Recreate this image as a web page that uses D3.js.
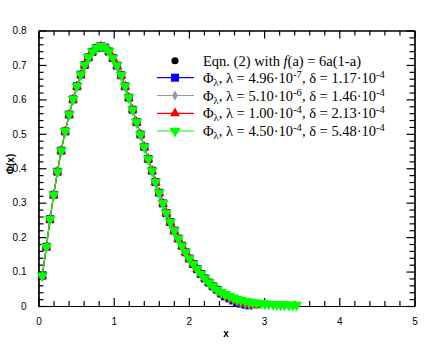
<!DOCTYPE html>
<html>
<head>
<meta charset="utf-8">
<script src="https://cdn.jsdelivr.net/npm/d3@7"></script>
<style>
  body { margin: 0; background: #fff; }
  svg { display: block; }
  .tick text { font-family: "Liberation Sans", Arial, sans-serif; font-size: 10px; fill: #000; }
  .legend text { font-family: "Liberation Serif", "Times New Roman", serif; font-size: 14.5px; fill: #000; }
</style>
</head>
<body>
<div id="chart"></div>
<script>
// ---------- data ----------
// shared body of all curves
const xBody = [0.05, 0.105, 0.153, 0.202, 0.252, 0.302, 0.355, 0.408, 0.46, 0.512, 0.564, 0.614,
  0.665, 0.717, 0.772, 0.828, 0.884, 0.938, 0.99, 1.045, 1.1, 1.152, 1.2, 1.252, 1.305, 1.357,
  1.408, 1.46, 1.51, 1.556, 1.605, 1.655, 1.7, 1.752, 1.805, 1.858, 1.908, 1.957, 2.005, 2.058,
  2.11, 2.162, 2.213, 2.266, 2.32, 2.378];
const yBody = [0.088, 0.172, 0.252, 0.323, 0.39, 0.451, 0.507, 0.556, 0.6, 0.638, 0.672, 0.7,
  0.722, 0.738, 0.749, 0.754, 0.75, 0.739, 0.72, 0.698, 0.67, 0.638, 0.605, 0.57, 0.534, 0.498,
  0.462, 0.427, 0.393, 0.36, 0.329, 0.298, 0.27, 0.244, 0.219, 0.196, 0.175, 0.156, 0.138, 0.122,
  0.107, 0.093, 0.08, 0.068, 0.057, 0.047];

// tails, where the curves separate
const xTail = [2.43, 2.48, 2.54, 2.59, 2.64, 2.69, 2.75, 2.8, 2.85, 2.9, 2.96, 3.01, 3.06,
  3.12, 3.17, 3.22, 3.27, 3.33, 3.38, 3.43];
const eqnTail = [0.038, 0.031, 0.025, 0.019, 0.015, 0.011, 0.008, 0.006, 0.004, 0.003];
const blueTail = [0.036, 0.028, 0.022, 0.016, 0.011, 0.007, 0.004, 0.002];
const grayTail = [0.037, 0.029, 0.023, 0.017, 0.012, 0.008, 0.005, 0.003, 0.002];
const redTail = [0.037, 0.03, 0.024, 0.019, 0.014, 0.01, 0.007, 0.005, 0.003, 0.002];
const greenTail = [0.04, 0.034, 0.029, 0.024, 0.02, 0.017, 0.014, 0.012, 0.01, 0.009, 0.008,
  0.007, 0.006, 0.005, 0.005, 0.004, 0.004, 0.003, 0.003, 0.003];

const xTicks = [0, 1, 2, 3, 4, 5];
const yTicks = [0, 0.1, 0.2, 0.3, 0.4, 0.5, 0.6, 0.7, 0.8];

const seriesNames = ["eqn", "blue", "gray", "red", "green"];
const seriesColors = ["#000000", "#0000ff", "#999999", "#ff0000", "#00ff00"];

// ---------- setup ----------
const width = 436, height = 347;
const margin = { top: 30.5, right: 21.5, bottom: 41, left: 38.5 };

const svg = d3.select("#chart").append("svg")
  .attr("width", width).attr("height", height);

const x = d3.scaleLinear().domain([0, 5]).range([margin.left, width - margin.right]);
const y = d3.scaleLinear().domain([0, 0.8]).range([height - margin.bottom, margin.top]);

// build series from the arrays
const tails = [eqnTail, blueTail, grayTail, redTail, greenTail];
const series = seriesNames.map((name, i) => {
  const pts = xBody.map((xv, j) => ({ x: xv, y: yBody[j] }));
  tails[i].forEach((v, j) => pts.push({ x: xTail[j], y: v }));
  return { name, color: seriesColors[i], pts };
});

// ---------- axes ----------
const xMinor = d3.range(0, 5.001, 0.2).filter(d => Math.abs(d - Math.round(d)) > 1e-6);
const yMinor = d3.range(0, 0.8001, 0.02).filter(d => Math.abs(d * 10 - Math.round(d * 10)) > 1e-6);
const yFmt = d => d === 0 ? "0" : d3.format(".1f")(d);

function drawAxis(axisFn, scale, majors, minors, transform, labels, fmt) {
  const gMin = svg.append("g").attr("transform", transform)
    .call(axisFn(scale).tickValues(minors).tickSize(-5).tickSizeOuter(0).tickFormat(""));
  const gMaj = svg.append("g").attr("transform", transform)
    .call(axisFn(scale).tickValues(majors).tickSize(-8).tickSizeOuter(0)
      .tickPadding(labels ? 12 : 0).tickFormat(labels ? fmt : ""));
  [gMin, gMaj].forEach(g => {
    g.selectAll(".tick line").attr("stroke", "#000").attr("stroke-width", 1.2);
    g.select(".domain").attr("stroke", "#000").attr("stroke-width", 1.2);
  });
  return gMaj;
}

drawAxis(d3.axisBottom, x, xTicks, xMinor, `translate(0,${height - margin.bottom})`, true, d3.format("d"));
drawAxis(d3.axisTop, x, xTicks, xMinor, `translate(0,${margin.top})`, false);
drawAxis(d3.axisLeft, y, yTicks, yMinor, `translate(${margin.left},0)`, true, yFmt);
drawAxis(d3.axisRight, y, yTicks, yMinor, `translate(${width - margin.right},0)`, false);

// axis titles
svg.append("text")
  .attr("x", 226).attr("y", 337)
  .attr("text-anchor", "middle")
  .style("font-family", "Liberation Sans, Arial, sans-serif")
  .style("font-size", "10px").style("font-weight", "bold")
  .text("x");

svg.append("text")
  .attr("transform", "translate(14,164) rotate(-90)")
  .attr("text-anchor", "middle")
  .style("font-family", "Liberation Sans, Arial, sans-serif")
  .style("font-size", "10px").style("font-weight", "bold")
  .text("Φ(x)");

// ---------- marks ----------
const symbolFor = {
  eqn: d3.symbol().type(d3.symbolCircle).size(40),
  blue: d3.symbol().type(d3.symbolSquare).size(64),
  gray: d3.symbol().type(d3.symbolDiamond).size(28),
  red: d3.symbol().type(d3.symbolTriangle).size(44),
  green: d3.symbol().type(d3.symbolTriangle).size(56)
};
const rot = name => name === "green" ? " rotate(180)" : "";

const line = d3.line().x(d => x(d.x)).y(d => y(d.y));

series.forEach(s => {
  const g = svg.append("g");
  if (s.name !== "eqn") {
    g.append("path")
      .attr("d", line(s.pts))
      .attr("fill", "none")
      .attr("stroke", s.color)
      .attr("stroke-width", 1.2);
  }
  g.selectAll("path.pt")
    .data(s.pts)
    .enter()
    .append("path")
    .attr("class", "pt")
    .attr("d", symbolFor[s.name]())
    .attr("transform", d => `translate(${x(d.x)},${y(d.y)})${rot(s.name)}`)
    .attr("fill", s.color);
});

// ---------- legend ----------
const legendRows = [60.7, 77.7, 95.5, 113.3, 131];
const lambdaTxt = ["4.96", "5.10", "1.00", "4.50"];
const lambdaExp = ["-7", "-6", "-4", "-4"];
const deltaTxt = ["1.17", "1.46", "2.13", "5.48"];

const legend = svg.append("g").attr("class", "legend");

seriesNames.forEach((name, i) => {
  const ly = legendRows[i];
  if (name !== "eqn") {
    legend.append("line")
      .attr("x1", 157).attr("x2", 194).attr("y1", ly).attr("y2", ly)
      .attr("stroke", seriesColors[i]).attr("stroke-width", 1.2);
  }
  legend.append("path")
    .attr("d", symbolFor[name]())
    .attr("transform", `translate(175,${ly})${rot(name)}`)
    .attr("fill", seriesColors[i]);

  const t = legend.append("text").attr("x", 203).attr("y", ly + 5);
  if (name === "eqn") {
    t.append("tspan").text("Eqn. (2) with ");
    t.append("tspan").style("font-style", "italic").text("f");
    t.append("tspan").text("(a) = 6a(1-a)");
  } else {
    const k = i - 1;
    t.append("tspan").text("Φ");
    t.append("tspan").attr("dy", 3).style("font-size", "10.5px").text("λ");
    t.append("tspan").attr("dy", -3).text(`, λ = ${lambdaTxt[k]}·10`);
    t.append("tspan").attr("dy", -5).style("font-size", "10.5px").text(lambdaExp[k]);
    t.append("tspan").attr("dy", 5).text(`, δ = ${deltaTxt[k]}·10`);
    t.append("tspan").attr("dy", -5).style("font-size", "10.5px").text("-4");
  }
});
</script>
</body>
</html>
